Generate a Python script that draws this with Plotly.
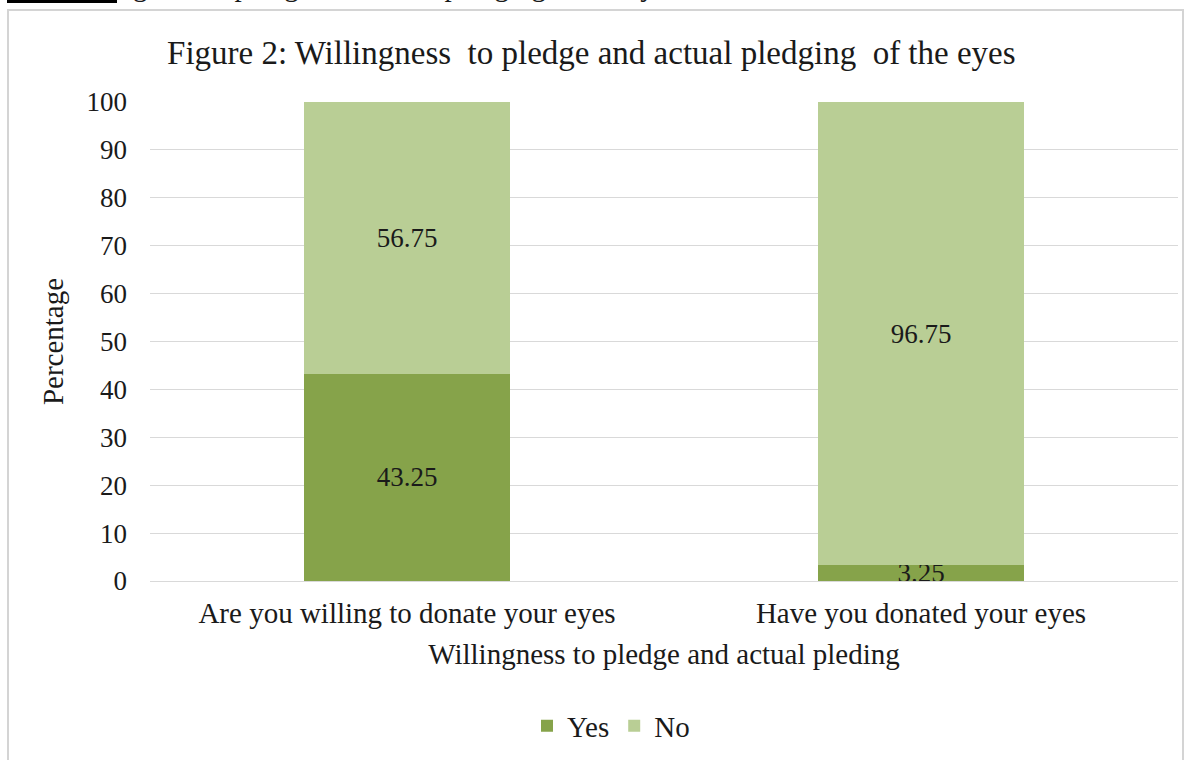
import plotly.graph_objects as go

categories = ["Are you willing to donate your eyes", "Have you donated your eyes"]
yes_values = [43.25, 3.25]
no_values = [56.75, 96.75]
y_ticks = [0, 10, 20, 30, 40, 50, 60, 70, 80, 90, 100]

FONT = "Liberation Serif, Times New Roman, serif"
TXT = "#1a1a1a"
FS = 27
FW = 29

fig = go.Figure()
fig.add_trace(go.Bar(
    x=categories, y=yes_values, name="Yes",
    marker=dict(color="#86A34A", line=dict(width=0)),
    text=[f"{v:.2f}" for v in yes_values],
    textposition="inside", insidetextanchor="middle",
    textfont=dict(family=FONT, size=FS, color=TXT),
))
fig.add_trace(go.Bar(
    x=categories, y=no_values, name="No",
    marker=dict(color="#B9CE95", line=dict(width=0)),
    text=[f"{v:.2f}" for v in no_values],
    textposition="inside", insidetextanchor="middle",
    textfont=dict(family=FONT, size=FS, color=TXT),
))

px = lambda x: (x - 150) / 1028
py = lambda y: (581 - y) / 479

fig.update_layout(
    barmode="stack",
    bargap=0.6,
    width=1197, height=760,
    margin=dict(l=150, r=19, t=102, b=179, autoexpand=False),
    paper_bgcolor="white", plot_bgcolor="white",
    font=dict(family=FONT, size=FS, color=TXT),
    uniformtext=dict(minsize=FS, mode="show"),
    title=dict(
        text="Figure 2: Willingness  to pledge and actual pledging  of the eyes",
        x=0.494, xanchor="center", y=1 - 52 / 760, yanchor="middle",
        font=dict(family=FONT, size=33, color=TXT),
    ),
    xaxis=dict(
        title=dict(text="Willingness to pledge and actual pleding",
                   font=dict(family=FONT, size=FW, color=TXT), standoff=15),
        tickfont=dict(family=FONT, size=FW, color=TXT),
        showline=False, showgrid=False, ticks="", ticklabelstandoff=12,
        automargin=False,
    ),
    yaxis=dict(
        title=dict(text="Percentage", font=dict(family=FONT, size=FW, color=TXT),
                   standoff=14),
        range=[0, 100], tickvals=y_ticks,
        tickfont=dict(family=FONT, size=FS, color=TXT),
        showgrid=True, gridcolor="#D9D9D9", gridwidth=1,
        zeroline=True, zerolinecolor="#D9D9D9", zerolinewidth=1,
        ticks="", ticklabelstandoff=22, automargin=False,
    ),
    legend=dict(
        orientation="h", x=px(527), xanchor="left",
        y=py(726), yanchor="middle",
        font=dict(family=FONT, size=FW, color=TXT),
        traceorder="normal", itemwidth=30,
    ),
    showlegend=True,
)

# chart frame and page remnant at top
fig.add_shape(type="rect", xref="paper", yref="paper",
              x0=px(8), x1=px(1183), y0=py(800), y1=py(10),
              line=dict(color="#D4D4D4", width=2), fillcolor="rgba(0,0,0,0)", layer="below")
fig.add_shape(type="rect", xref="paper", yref="paper",
              x0=px(7), x1=px(117), y0=py(3), y1=py(-5),
              line=dict(width=0), fillcolor="black")
fig.add_annotation(xref="paper", yref="paper", x=px(58), y=py(4),
                   xanchor="left", yanchor="bottom", showarrow=False,
                   text="Willingness to pledge and actual pledging of the eyes",
                   font=dict(family=FONT, size=FW, color=TXT))

fig.write_html("out.html")
